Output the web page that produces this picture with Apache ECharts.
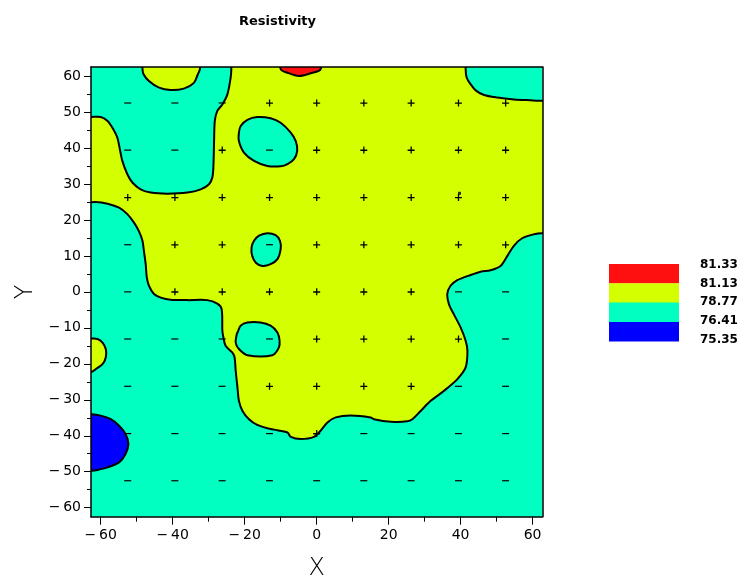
<!DOCTYPE html>
<html><head><meta charset="utf-8">
<script src="https://cdn.jsdelivr.net/npm/echarts@6/dist/echarts.min.js"></script>
<style>html,body{margin:0;padding:0;background:#fff}#c{width:741px;height:575px}</style>
</head><body><div id="c"></div>
<script>
// ---------- data ----------
const titleText = 'Resistivity';
const levels = [81.33, 81.13, 78.77, 76.41, 75.35];
const bandColors = ['#ff1010', '#d4ff00', '#00ffc0', '#0000ff']; // red, yellow, cyan, blue
const xMajorTicks = [-60, -40, -20, 0, 20, 40, 60];
const xMinorTicks = [-50, -30, -10, 10, 30, 50];
const yMajorTicks = [-60, -50, -40, -30, -20, -10, 0, 10, 20, 30, 40, 50, 60];
const yMinorTicks = [-55, -45, -35, -25, -15, -5, 5, 15, 25, 35, 45, 55];
const sampleX = [-52.5, -39.4, -26.25, -13.1, 0, 13.1, 26.25, 39.4, 52.5];
const sampleY = [52.5, 39.4, 26.25, 13.1, 0, -13.1, -26.25, -39.4, -52.5];
const sampleSigns = [
  '---++++++',
  '--+-+++++',
  '+++++++++',
  '-++-+++++',
  '-++++++--',
  '----++++-',
  '---++++--',
  '----+----',
  '---------'
];
const extraPoints = [[39.7, 27.4]];

// contour region boundaries (data coordinates)
const yellowMain = [
  [-70, 48.6], [-62.7, 48.6], [-60.0, 48.6], [-58.1, 47.5], [-56.75, 45.6], [-55.4, 42.9], [-54.6, 39.2],
  [-54.0, 36.4], [-52.6, 32.7], [-51.2, 30.4], [-48.9, 28.5], [-46.1, 27.6], [-41.5, 27.3], [-35.9, 27.6],
  [-32.2, 28.5], [-29.9, 29.9], [-29.0, 31.75], [-28.7, 34.5], [-28.5, 41.9], [-28.3, 47.5], [-27.6, 50.3],
  [-26.2, 52.1], [-24.8, 54.9], [-23.9, 59.5], [-23.7, 62.2], [-23.7, 70], [41.4, 70],
  [41.4, 61.9], [41.7, 59.5], [42.8, 57.7], [44.2, 56.0], [46.5, 54.7], [50.2, 54.0], [54.8, 53.5],
  [59.4, 53.25], [62.7, 53.1], [70, 53.1], [70, 16.3],
  [62.7, 16.3], [60.4, 16.0], [57.1, 14.9], [54.8, 12.8], [53.0, 10.0], [51.1, 7.2], [48.3, 6.0],
  [45.6, 5.6], [42.8, 4.7], [39.1, 3.25], [37.2, 1.7], [36.3, -0.6], [36.75, -3.4], [38.1, -6.2],
  [40.0, -9.9], [41.4, -13.6], [41.9, -16.4], [41.4, -21.0], [39.1, -24.25], [35.4, -27.5], [31.7, -30.3],
  [28.9, -33.1], [26.6, -35.4], [25.2, -36.0], [20.6, -36.1], [15.9, -35.4], [15.0, -34.9], [9.4, -34.4],
  [5.3, -34.9], [3.0, -36.3], [1.1, -38.6], [-0.75, -40.3], [-4.4, -40.9], [-7.2, -40.3], [-8.1, -39.1],
  [-11.9, -38.3], [-13.7, -37.9], [-16.5, -37.0], [-18.8, -35.4], [-20.6, -33.1], [-21.6, -30.3],
  [-22.0, -26.6], [-22.5, -21.9], [-22.8, -18.25], [-23.4, -16.9], [-25.3, -15.0], [-25.9, -12.7],
  [-26.2, -10.8], [-26.4, -4.8], [-27.6, -3.25], [-30.4, -2.3], [-35.9, -2.3], [-40.6, -2.2],
  [-43.3, -1.6], [-45.2, -0.6], [-46.6, 1.7], [-47.2, 4.0], [-47.5, 7.7], [-48.0, 11.4], [-48.4, 14.2],
  [-49.4, 16.9], [-50.75, 19.25], [-52.6, 21.6], [-54.9, 23.4], [-58.1, 24.5], [-61.4, 25.0], [-70, 25.0]
];
const yellowTopBump = [
  [-48.4, 70], [-48.4, 62.1], [-48.1, 60.5], [-46.6, 58.6], [-43.8, 56.75], [-40.6, 56.1],
  [-36.9, 56.5], [-34.1, 58.1], [-33.0, 60.5], [-32.4, 62.1], [-32.4, 70]
];
const yellowLeftBump = [
  [-70, -13.0], [-62.5, -13.0], [-60.9, -13.1], [-59.5, -14.1], [-58.6, -15.9], [-58.6, -18.25],
  [-59.5, -20.1], [-61.4, -21.5], [-62.5, -22.2], [-70, -22.2]
];
const cyanIsland1 = [
  [-21.1, 46.1], [-19.25, 47.8], [-16.5, 48.6], [-12.8, 48.25], [-10.0, 47.0], [-7.2, 44.25],
  [-5.8, 41.9], [-5.4, 39.2], [-6.3, 36.9], [-8.1, 35.5], [-10.0, 34.9], [-13.7, 35.0],
  [-17.4, 36.4], [-20.2, 38.7], [-21.6, 41.9], [-21.6, 44.25]
];
const cyanIsland2 = [
  [-17.4, 14.2], [-16.0, 15.6], [-13.7, 16.3], [-11.4, 15.75], [-10.2, 14.2], [-10.0, 11.9],
  [-10.9, 9.1], [-12.8, 7.7], [-15.1, 7.2], [-16.9, 8.1], [-17.9, 10.0], [-18.1, 12.3]
];
const cyanIsland3 = [
  [-22.0, -11.3], [-21.1, -9.4], [-19.25, -8.5], [-15.6, -8.5], [-12.8, -9.4], [-10.9, -11.3],
  [-10.3, -13.6], [-10.5, -15.5], [-12.3, -17.6], [-19.25, -17.6], [-21.6, -15.9], [-22.5, -14.1],
  [-22.2, -11.75]
];
const redTop = [
  [-10.0, 70], [-10.0, 61.9], [-8.1, 60.9], [-4.9, 60.0], [-1.7, 60.75], [1.1, 61.9], [1.1, 70]
];
const blueLeft = [
  [-70, -34.0], [-62.5, -34.0], [-60.0, -34.4], [-57.2, -35.4], [-54.9, -37.2], [-53.1, -39.5],
  [-52.3, -42.3], [-53.1, -45.1], [-54.9, -47.4], [-58.1, -48.8], [-60.9, -49.5], [-62.5, -49.7], [-70, -49.7]
];
const regions = [
  { band: 1, pts: yellowMain },
  { band: 1, pts: yellowTopBump },
  { band: 1, pts: yellowLeftBump },
  { band: 2, pts: cyanIsland1 },
  { band: 2, pts: cyanIsland2 },
  { band: 2, pts: cyanIsland3 },
  { band: 0, pts: redTop },
  { band: 3, pts: blueLeft }
];

// ---------- build ----------
const plusPts = [], minusPts = [];
sampleY.forEach((y, r) => sampleX.forEach((x, c) => {
  (sampleSigns[r][c] === '+' ? plusPts : minusPts).push([x, y]);
}));

const fontFam = '"DejaVu Sans", Verdana, sans-serif';
const fmt = v => v < 0 ? '\u2212\u2009' + (-v) : String(v);
const X_MIN = -62.7, X_MAX = 62.7, Y_MIN = -62.5, Y_MAX = 62.5;

function baseAxis(extra) {
  return Object.assign({
    type: 'value', splitLine: { show: false }, z: 10,
    axisLine: { show: false, onZero: false }, axisTick: { show: false }, axisLabel: { show: false }
  }, extra);
}
const frameLine = { show: true, onZero: false, lineStyle: { color: '#000', width: 1.5 } };

const chart = echarts.init(document.getElementById('c'));
const legendGraphics = [];
const boxX = 609, boxW = 70, boxTop = 264, boxH = 19.3;
bandColors.forEach((col, i) => {
  legendGraphics.push({ type: 'rect', left: boxX, top: boxTop + i * boxH,
    shape: { width: boxW, height: boxH + 0.3 }, style: { fill: col } });
});
levels.forEach((lv, i) => {
  legendGraphics.push({ type: 'text', x: 700, y: 265 + i * 18.6,
    style: { text: lv.toFixed(2), fill: '#000', font: 'bold 12px ' + fontFam,
      textAlign: 'left', textVerticalAlign: 'middle' } });
});

chart.setOption({
  animation: false,
  backgroundColor: '#fff',
  title: { text: titleText, left: 234, top: 10,
    textStyle: { fontFamily: fontFam, fontWeight: 'bold', fontSize: 13, color: '#000' } },
  grid: { left: 91, top: 67, width: 451.3, height: 449.7, show: true, containLabel: false,
    outerBoundsMode: 'none',
    backgroundColor: bandColors[2], borderWidth: 0 },
  xAxis: [
    baseAxis({ min: X_MIN, max: X_MAX, position: 'bottom',
      axisLine: frameLine,
      axisTick: { show: true, customValues: xMajorTicks, length: 8, lineStyle: { color: '#000' } },
      axisLabel: { show: true, customValues: xMajorTicks, formatter: fmt, margin: 12,
        fontFamily: fontFam, fontSize: 14, color: '#000' },
      name: 'X', nameLocation: 'middle', nameGap: 40,
      nameTextStyle: { fontFamily: fontFam, fontSize: 24, fontWeight: 200, color: '#000' } }),
    baseAxis({ min: X_MIN, max: X_MAX, position: 'bottom',
      axisTick: { show: true, customValues: xMinorTicks, length: 5, lineStyle: { color: '#000' } } }),
    baseAxis({ min: X_MIN, max: X_MAX, position: 'top', axisLine: frameLine })
  ],
  yAxis: [
    baseAxis({ min: Y_MIN, max: Y_MAX, position: 'left',
      axisLine: frameLine,
      axisTick: { show: true, customValues: yMajorTicks, length: 7, lineStyle: { color: '#000' } },
      axisLabel: { show: true, customValues: yMajorTicks, formatter: fmt, margin: 10,
        fontFamily: fontFam, fontSize: 14, color: '#000' },
      name: 'Y', nameLocation: 'middle', nameGap: 53,
      nameTextStyle: { fontFamily: fontFam, fontSize: 24, fontWeight: 200, color: '#000' } }),
    baseAxis({ min: Y_MIN, max: Y_MAX, position: 'left',
      axisTick: { show: true, customValues: yMinorTicks, length: 4, lineStyle: { color: '#000' } } }),
    baseAxis({ min: Y_MIN, max: Y_MAX, position: 'right', axisLine: frameLine })
  ],
  series: [
    {
      type: 'custom', xAxisIndex: 0, yAxisIndex: 0, clip: true, silent: true,
      data: regions.map((r, i) => [i, 0]),
      renderItem: (params, api) => {
        const r = regions[api.value(0)];
        return {
          type: 'polygon',
          shape: { points: r.pts.map(p => api.coord(p)), smooth: 0.3 },
          style: { fill: bandColors[r.band], stroke: '#000', lineWidth: 2 }
        };
      }
    },
    {
      type: 'scatter', xAxisIndex: 0, yAxisIndex: 0, silent: true, data: plusPts,
      symbol: 'path://M0,3H7V4.3H0Z M2.9,0H4.2V7H2.9Z', symbolSize: 7,
      itemStyle: { color: '#000', opacity: 1 }, z: 5
    },
    {
      type: 'scatter', xAxisIndex: 0, yAxisIndex: 0, silent: true, data: minusPts,
      symbol: 'path://M0,0H7V1H0Z', symbolSize: [7, 1.2],
      itemStyle: { color: '#000', opacity: 1 }, z: 5
    },
    {
      type: 'scatter', xAxisIndex: 0, yAxisIndex: 0, silent: true, data: extraPoints,
      symbol: 'rect', symbolSize: 3, itemStyle: { color: '#000' }, z: 5
    }
  ],
  graphic: legendGraphics
});
</script>
</body></html>
